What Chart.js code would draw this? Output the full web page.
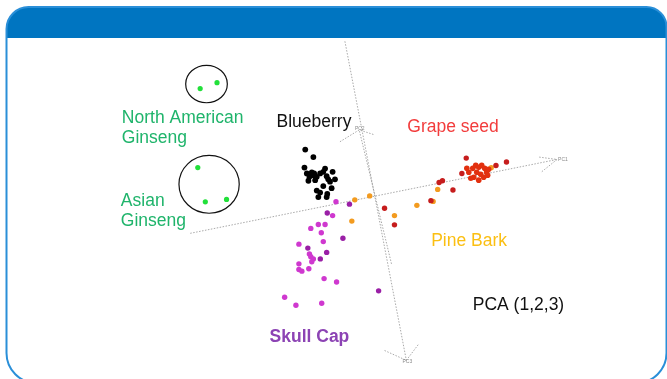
<!DOCTYPE html>
<html>
<head>
<meta charset="utf-8">
<script src="https://cdn.jsdelivr.net/npm/chart.js@4.4.0/dist/chart.umd.min.js"></script>
<style>
  html, body { margin: 0; padding: 0; background: #ffffff; }
  canvas { display: block; }
</style>
</head>
<body>
<canvas id="pca" width="667" height="379"></canvas>
<script>
// PCA score plot (components 1, 2, 3) projected onto the page plane.
// Units: projected score units, origin where the PC1 and PC3 axes cross.

const ginsengNorthAmerican = [
  { x: -8.80, y: 5.65 }, { x: -7.95, y: 5.95 }
];
const ginsengAsian = [
  { x: -8.92, y: 1.64 }, { x: -8.54, y: -0.10 }, { x: -7.47, y: 0.02 }
];
const blueberry = [
  { x: -3.50, y: 2.55 }, { x: -3.09, y: 2.17 }, { x: -3.54, y: 1.64 }, { x: -2.50, y: 1.59 },
  { x: -3.42, y: 1.34 }, { x: -3.17, y: 1.39 }, { x: -3.29, y: 1.17 }, { x: -3.09, y: 1.25 },
  { x: -3.34, y: 0.97 }, { x: -2.75, y: 1.34 }, { x: -2.59, y: 1.42 }, { x: -2.42, y: 1.20 },
  { x: -2.12, y: 1.42 }, { x: -2.00, y: 1.04 }, { x: -2.25, y: 0.92 }, { x: -2.34, y: 1.04 },
  { x: -2.59, y: 0.70 }, { x: -2.92, y: 0.47 }, { x: -2.75, y: 0.37 }, { x: -2.39, y: 0.30 },
  { x: -2.42, y: 0.14 }, { x: -2.84, y: 0.14 }, { x: -3.05, y: 1.34 }, { x: -3.00, y: 1.00 },
  { x: -2.92, y: 1.17 }, { x: -2.17, y: 0.59 }
];
const skullCapA = [
  { x: -1.95, y: -0.10 }, { x: -2.12, y: -0.80 }, { x: -2.84, y: -1.25 }, { x: -2.50, y: -1.25 },
  { x: -3.22, y: -1.45 }, { x: -2.69, y: -1.67 }, { x: -2.59, y: -2.12 }, { x: -3.82, y: -2.25 },
  { x: -3.29, y: -2.75 }, { x: -3.22, y: -2.89 }, { x: -3.09, y: -3.00 }, { x: -3.17, y: -3.14 },
  { x: -3.82, y: -3.25 }, { x: -3.82, y: -3.54 }, { x: -3.67, y: -3.62 }, { x: -3.32, y: -3.50 },
  { x: -2.55, y: -4.00 }, { x: -1.92, y: -4.17 }, { x: -4.54, y: -4.95 }, { x: -3.97, y: -5.35 },
  { x: -2.67, y: -5.25 }
];
const skullCapB = [
  { x: -1.27, y: -0.22 }, { x: -2.39, y: -0.67 }, { x: -1.60, y: -1.95 }, { x: -3.37, y: -2.45 },
  { x: -2.42, y: -2.67 }, { x: -2.74, y: -3.00 }, { x: 0.20, y: -4.62 }
];
const pineBark = [
  { x: -1.00, y: 0.00 }, { x: -0.25, y: 0.20 }, { x: -1.15, y: -1.08 }, { x: 1.00, y: -0.80 },
  { x: 2.13, y: -0.28 }, { x: 2.95, y: -0.08 }, { x: 3.18, y: 0.53 }, { x: 5.88, y: 1.63 }
];
const grapeSeedA = [
  { x: 0.50, y: -0.43 }, { x: 1.00, y: -1.27 }, { x: 2.84, y: -0.04 }, { x: 3.25, y: 0.88 },
  { x: 3.42, y: 0.97 }, { x: 3.95, y: 0.50 }, { x: 4.62, y: 2.12 }, { x: 4.40, y: 1.34 },
  { x: 6.65, y: 1.92 }, { x: 6.12, y: 1.74 }
];
const grapeSeedB = [
  { x: 4.75, y: 1.40 }, { x: 4.95, y: 1.60 }, { x: 5.10, y: 1.75 }, { x: 5.25, y: 1.65 },
  { x: 5.40, y: 1.75 }, { x: 5.55, y: 1.60 }, { x: 5.15, y: 1.40 }, { x: 5.35, y: 1.30 },
  { x: 5.65, y: 1.40 }, { x: 5.00, y: 1.15 }, { x: 5.25, y: 1.00 }, { x: 5.50, y: 1.15 },
  { x: 4.85, y: 1.10 }, { x: 5.75, y: 1.55 }, { x: 4.65, y: 1.60 }, { x: 5.70, y: 1.25 }
];

// Projected component axes and their arrowheads
const axisPC1 = [{ x: -9.30, y: -1.70 }, { x: 9.20, y: 2.05 }];
const headPC1 = [{ x: 8.30, y: 2.17 }, { x: 9.20, y: 2.05 }, { x: 8.42, y: 1.42 }];
const axisPC2 = [{ x: 0.85, y: -3.25 }, { x: -0.78, y: 3.55 }];
const headPC2 = [{ x: -1.75, y: 2.95 }, { x: -0.78, y: 3.55 }, { x: 0.00, y: 3.30 }];
const axisPC3 = [{ x: -1.50, y: 8.05 }, { x: 1.60, y: -8.15 }];
const headPC3 = [{ x: 0.50, y: -7.65 }, { x: 1.60, y: -8.15 }, { x: 2.20, y: -7.35 }];
const axisNames = ['PC1', 'PC2', 'PC3'];
const axisNameAt = [{ x: 9.50, y: 2.05 }, { x: -0.75, y: 3.62 }, { x: 1.65, y: -8.20 }];

// Group labels
const groupLabels = [
  ['North American', 'Ginseng'], ['Asian', 'Ginseng'], ['Blueberry'], ['Grape seed'],
  ['Pine Bark'], ['Skull Cap'], ['PCA (1,2,3)']
];
const groupLabelAt = [
  { x: -12.75, y: 3.90 }, { x: -12.80, y: -0.30 }, { x: -4.95, y: 3.70 }, { x: 1.65, y: 3.45 },
  { x: 2.85, y: -2.35 }, { x: -5.30, y: -7.20 }, { x: 4.95, y: -5.60 }
];
const groupLabelColor = ['#1fb46b', '#1fb46b', '#111111', '#f23c3c', '#fbbf12', '#8c43b4', '#111111'];
const groupLabelWeight = ['normal', 'normal', 'normal', 'normal', 'normal', 'bold', 'normal'];

// Rings drawn round the ginseng samples (centre and radii in score units)
const ginsengRings = [
  { x: -8.48, y: 5.88, rx: 1.05, ry: 0.95 },
  { x: -8.35, y: 0.79, rx: 1.52, ry: 1.47 }
];

const FONT = '"Liberation Sans", Arial, sans-serif';

function pointSet(data, color, r) {
  return {
    data, backgroundColor: color, borderColor: color, borderWidth: 0,
    pointRadius: r, pointHoverRadius: r, showLine: false, order: 1
  };
}
function lineSet(data) {
  return {
    data, showLine: true, pointRadius: 0, borderColor: 'rgba(140,140,140,0.75)',
    borderWidth: 1, borderDash: [1.5, 1.5], fill: false, tension: 0, order: 5
  };
}

const framePlugin = {
  id: 'frame',
  afterDraw(chart) {
    const ctx = chart.ctx;
    ctx.save();
    const x0 = 6.5, y0 = 7, w = 660, h = 376;
    const path = new Path2D();
    path.roundRect(x0, y0, w, h, [22, 20, 30, 30]);
    ctx.save();
    ctx.clip(path);
    ctx.fillStyle = '#0075c1';
    ctx.fillRect(0, 0, 667, 38);
    ctx.restore();
    ctx.strokeStyle = '#2a8fd8';
    ctx.lineWidth = 2;
    ctx.stroke(path);
    ctx.restore();
  }
};

const annotatePlugin = {
  id: 'annotate',
  afterDatasetsDraw(chart) {
    const ctx = chart.ctx;
    const sx = chart.scales.x, sy = chart.scales.y;
    ctx.save();
    // rings
    ctx.strokeStyle = '#111111';
    ctx.lineWidth = 1.2;
    ginsengRings.forEach(c => {
      const cx = sx.getPixelForValue(c.x), cy = sy.getPixelForValue(c.y);
      const rx = Math.abs(sx.getPixelForValue(c.x + c.rx) - cx);
      const ry = Math.abs(sy.getPixelForValue(c.y + c.ry) - cy);
      ctx.beginPath();
      ctx.ellipse(cx, cy, rx, ry, 0, 0, Math.PI * 2);
      ctx.stroke();
    });
    // axis names
    ctx.fillStyle = '#8a8a8a';
    ctx.font = '5px ' + FONT;
    ctx.textAlign = 'center';
    ctx.textBaseline = 'middle';
    axisNames.forEach((t, i) => {
      ctx.fillText(t, sx.getPixelForValue(axisNameAt[i].x), sy.getPixelForValue(axisNameAt[i].y));
    });
    // group labels
    ctx.textAlign = 'left';
    ctx.textBaseline = 'alphabetic';
    groupLabels.forEach((lines, i) => {
      ctx.fillStyle = groupLabelColor[i];
      ctx.font = groupLabelWeight[i] + ' 17.5px ' + FONT;
      const px = sx.getPixelForValue(groupLabelAt[i].x);
      const py = sy.getPixelForValue(groupLabelAt[i].y);
      lines.forEach((t, k) => ctx.fillText(t, px, py + k * 20));
    });
    ctx.restore();
  }
};

new Chart(document.getElementById('pca'), {
  type: 'scatter',
  data: {
    datasets: [
      pointSet(ginsengNorthAmerican, '#22e03a', 2.6),
      pointSet(ginsengAsian, '#22e03a', 2.6),
      pointSet(blueberry, '#000000', 2.9),
      pointSet(skullCapA, '#cf38cf', 2.7),
      pointSet(skullCapB, '#9a1fa6', 2.7),
      pointSet(grapeSeedB, '#e2300f', 2.8),
      pointSet(grapeSeedA, '#c61d1d', 2.7),
      pointSet(pineBark, '#f39b1f', 2.7),
      lineSet(axisPC1), lineSet(headPC1),
      lineSet(axisPC2), lineSet(headPC2),
      lineSet(axisPC3), lineSet(headPC3)
    ]
  },
  options: {
    responsive: false,
    devicePixelRatio: 1,
    animation: false,
    events: [],
    layout: { padding: 0 },
    plugins: { legend: { display: false }, tooltip: { enabled: false }, title: { display: false } },
    scales: {
      x: { type: 'linear', display: false, min: -18.75, max: 14.6 },
      y: { type: 'linear', display: false, min: -8.95, max: 10 }
    }
  },
  plugins: [annotatePlugin, framePlugin]
});
</script>
</body>
</html>
